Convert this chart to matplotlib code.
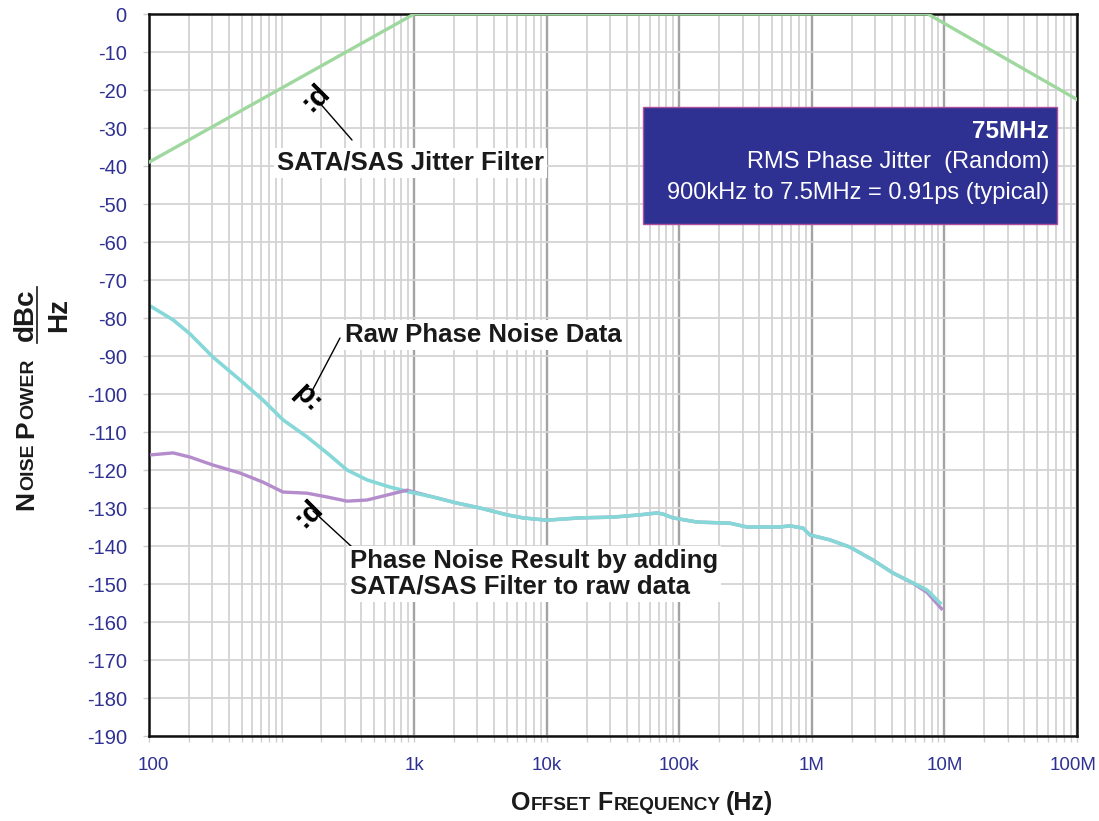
import matplotlib
matplotlib.use('Agg')
import matplotlib.pyplot as plt
from matplotlib.patches import Rectangle
from matplotlib.lines import Line2D
from matplotlib.transforms import ScaledTranslation
from matplotlib.ticker import FixedLocator, LogLocator, NullFormatter

plt.rcParams['font.family'] = ['Liberation Sans', 'DejaVu Sans']
plt.rcParams['axes.unicode_minus'] = False

# --- data (x is the physical log position) ---
filter_freq = [10, 1e3, 7.5e6, 1e8]
filter_db = [-39, 0, 0, -22.5]

raw_freq = [10.5, 15.2, 20.4, 30.4, 48.6, 72.4, 102.5, 155.6, 220, 312, 441, 657,
            931, 1387, 2104, 3139, 5013, 6620, 1.0e4, 1.78e4, 3.16e4, 5.06e4,
            6.79e4, 7.54e4, 8.97e4, 1.36e5, 2.41e5, 3.24e5, 5.75e5, 6.84e5,
            8.58e5, 9.68e5, 1.37e6, 1.94e6, 2.89e6, 4.09e6, 5.79e6, 7.39e6, 9.27e6]
raw_db = [-77.1, -80.5, -84.2, -90.3, -96.3, -101.6, -106.8, -111.3, -115.5, -120,
          -122.6, -124.5, -125.8, -127.1, -128.7, -130, -131.8, -132.6, -133.2,
          -132.6, -132.4, -131.8, -131.3, -131.6, -132.6, -133.7, -134, -135, -135,
          -134.7, -135.3, -137.1, -138.4, -140.3, -143.7, -147.1, -149.7, -151.6, -155]

result_freq = [10.5, 15.2, 20.4, 30.4, 48.6, 72.4, 102.5, 155.6, 220, 312, 441, 624,
               883, 1387, 2104, 3139, 5013, 6620, 1.0e4, 1.78e4, 3.16e4, 5.06e4,
               6.79e4, 7.54e4, 8.97e4, 1.36e5, 2.41e5, 3.24e5, 5.75e5, 6.84e5,
               8.58e5, 9.68e5, 1.37e6, 1.94e6, 2.89e6, 4.09e6, 5.79e6, 7.39e6, 9.5e6]
result_db = [-116, -115.5, -116.6, -118.7, -120.8, -123.2, -125.8, -126.1, -127.1,
             -128.2, -127.9, -126.6, -125.3, -127.1, -128.7, -130, -131.8, -132.6,
             -133.2, -132.6, -132.4, -131.8, -131.3, -131.6, -132.6, -133.7, -134,
             -135, -135, -134.7, -135.3, -137.1, -138.4, -140.3, -143.7, -147.1,
             -149.8, -152.2, -156.5]

x_ticks = [10, 1e3, 1e4, 1e5, 1e6, 1e7, 1e8]
x_labels = ['100', '1k', '10k', '100k', '1M', '10M', '100M']
y_ticks = list(range(-190, 1, 10))

BLUE = '#2e3192'
W, H = 1099, 821

fig = plt.figure(figsize=(W / 100, H / 100), dpi=100)
ax = fig.add_axes([149 / W, 1 - 736 / H, 928 / W, 722 / H])

ax.set_xscale('log')
ax.set_xlim(10, 1e8)
ax.set_ylim(-190, 0)
ax.xaxis.set_major_locator(FixedLocator(x_ticks))
ax.set_xticklabels(x_labels)
ax.xaxis.set_minor_locator(LogLocator(base=10, subs=range(1, 10)))
ax.xaxis.set_minor_formatter(NullFormatter())
ax.set_yticks(y_ticks)

ax.grid(which='major', axis='x', color='#a3a3a3', lw=1.7, zorder=0)
ax.grid(which='minor', axis='x', color='#d3d3d3', lw=1.3, zorder=0)
ax.grid(which='major', axis='y', color='#d5d2d3', lw=1.3, zorder=0)
ax.set_axisbelow(True)

ax.tick_params(which='both', direction='out', length=4.5, width=1, color='#cccccc')
ax.tick_params(axis='y', pad=11.5, labelsize=14.5, labelcolor=BLUE)
ax.tick_params(axis='x', pad=10.5, labelsize=13.5, labelcolor=BLUE)
for s in ax.spines.values():
    s.set_linewidth(1.8)
    s.set_color('#111111')

# nudge the end labels inward so they stay on the canvas
xl = ax.get_xticklabels()
xl[-1].set_transform(xl[-1].get_transform() + ScaledTranslation(-4 / 100, 0, fig.dpi_scale_trans))
xl[0].set_transform(xl[0].get_transform() + ScaledTranslation(4 / 100, 0, fig.dpi_scale_trans))

ax.plot(filter_freq, filter_db, color='#9fd89f', lw=2.4, zorder=3)
ax.plot(result_freq, result_db, color='#b48ccc', lw=2.4, zorder=3)
ax.plot(raw_freq[12:], raw_db[12:], color='#86d8d8', lw=2.6, zorder=4)
ax.plot(raw_freq[:13], raw_db[:13], color='#86d8d8', lw=2.6, zorder=2.5)


def apos(px, py):
    return ((px - 149) / 928, (736 - py) / 722)


bold = dict(fontsize=18.5, fontweight='bold', color='#1a1a1a', ha='left', va='center',
            transform=ax.transAxes, zorder=6,
            bbox=dict(facecolor='white', edgecolor='none', pad=2))
ax.text(*apos(277, 163), 'SATA/SAS Jitter Filter', **bold)
ax.text(*apos(345, 335), 'Raw Phase Noise Data', **bold)
ax.text(*apos(350, 574), 'Phase Noise Result by adding\nSATA/SAS Filter to raw data',
        linespacing=1.1, **bold)

# leader lines with their odd end glyphs
leaders = [((318, 101), (352, 140), (312, 100), 225),
           ((311, 393), (340, 338), (308, 398), 315),
           ((313, 511), (352, 547), (305, 516), 225)]
for tip, end, gpos, rot in leaders:
    ax.annotate('', xy=apos(*tip), xytext=apos(*end), xycoords='axes fraction',
                textcoords='axes fraction',
                arrowprops=dict(arrowstyle='-', color='black', lw=1,
                                shrinkA=0, shrinkB=0), zorder=5)
    ax.text(*apos(*gpos), 'p:', fontsize=21, fontweight='bold', rotation=rot,
            rotation_mode='anchor', ha='center', va='center',
            transform=ax.transAxes, zorder=6)

# info box
x0, y0 = apos(643, 224)
x1, y1 = apos(1057, 107)
ax.add_patch(Rectangle((x0, y0), x1 - x0, y1 - y0, transform=ax.transAxes,
                       facecolor=BLUE, edgecolor='#b0509c', lw=1, zorder=6))
ax.text(*apos(1049, 131), '75MHz', fontsize=17.5, fontweight='bold', color='white',
        ha='right', va='center', transform=ax.transAxes, zorder=7)
ax.text(*apos(1049, 162), 'RMS Phase Jitter  (Random)', fontsize=17, color='white',
        ha='right', va='center', transform=ax.transAxes, zorder=7)
ax.text(*apos(1049, 193), '900kHz to 7.5MHz = 0.91ps (typical)', fontsize=17,
        color='white', ha='right', va='center', transform=ax.transAxes, zorder=7)

# small-caps axis labels, built piece by piece
renderer = fig.canvas.get_renderer()


def fpos(px, py):
    return (px / W, 1 - py / H)


def small_caps(pieces, start, horizontal):
    px, py = start
    for txt, size in pieces:
        if txt == ' ':
            step = 0.278 * size * 100 / 72
        else:
            t = fig.text(*fpos(px, py), txt, fontsize=size, fontweight='bold',
                         color='#1a1a1a', rotation=0 if horizontal else 90,
                         rotation_mode='anchor', ha='left', va='baseline')
            bb = t.get_window_extent(renderer)
            step = bb.width if horizontal else bb.height
            step += 0.04 * size
        if horizontal:
            px += step
        else:
            py -= step


small_caps([('O', 18), ('FFSET', 13.7), (' ', 13.7), ('F', 18), ('REQUENCY', 13.7),
            (' ', 13.7), ('(Hz)', 18)], (511, 810), True)
small_caps([('N', 19), ('OISE', 14), (' ', 14), ('P', 19), ('OWER', 14)],
           (33, 510), False)

fig.text(*fpos(33, 315), 'dBc', fontsize=20, fontweight='bold', color='#1a1a1a',
         rotation=90, rotation_mode='anchor', ha='center', va='baseline')
fig.text(*fpos(66, 315), 'Hz', fontsize=20, fontweight='bold', color='#1a1a1a',
         rotation=90, rotation_mode='anchor', ha='center', va='baseline')
fig.add_artist(Line2D([37 / W, 37 / W], [1 - 343 / H, 1 - 287 / H], color='#1a1a1a',
                      lw=1.2, transform=fig.transFigure))

fig.savefig('out.png', dpi=100)
